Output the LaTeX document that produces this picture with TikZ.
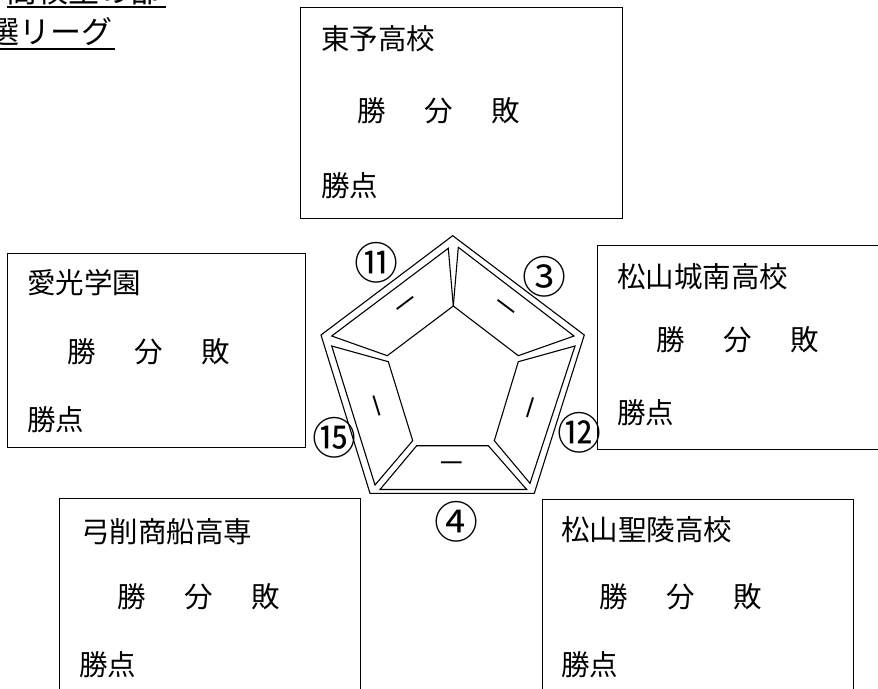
\documentclass[tikz,border=0pt]{standalone}
\usepackage{fontspec}
\setmainfont{Noto Sans CJK JP}
\usetikzlibrary{calc}
\begin{document}
\begin{tikzpicture}[x=1bp,y=-1bp,
  box/.style={draw,line width=1.1bp,inner sep=0pt,anchor=north west},
  lbl/.style={anchor=west,inner sep=0pt,font=\fontsize{28.5bp}{30bp}\selectfont},
  num/.style={inner sep=0pt,font=\fontsize{44bp}{46bp}\selectfont},
  dsh/.style={inner sep=0pt,font=\fontsize{28.5bp}{30bp}\selectfont},
  ttl/.style={anchor=base east,inner sep=0pt,font=\fontsize{31bp}{33bp}\selectfont},
  uline/.style={line width=2bp},
  pent/.style={line width=1.1bp,line join=miter}]
\useasboundingbox (0,0) rectangle (878,689);
\clip (0,0) rectangle (878,689);

% title
\node[ttl] (t1) at (162,3) {高校生の部};
\draw[uline] ([yshift=-4.5bp]t1.base west) -- ([xshift=4bp,yshift=-4.5bp]t1.base east);
\node[ttl] (t2) at (113,44) {予選リーグ};
\draw[uline] ([yshift=-5.5bp]t2.base west) -- ([xshift=2bp,yshift=-5.5bp]t2.base east);

% boxes
\node[box,minimum width=322bp,minimum height=211bp] (bt) at (300,7) {};
\node[lbl] (bt1) at ($(bt.north west)+(21,32)$) {東予高校};
\node[lbl] (bt2) at ($(bt.north west)+(57,104)$) {勝\hspace{38.5bp}分\hspace{38.5bp}敗};
\node[lbl] (bt3) at ($(bt.north west)+(21,179)$) {勝点};

\node[box,minimum width=298bp,minimum height=194bp] (bl) at (7,253) {};
\node[lbl] (bl1) at ($(bl.north west)+(20,30)$) {愛光学園};
\node[lbl] (bl2) at ($(bl.north west)+(60,99)$) {勝\hspace{38.5bp}分\hspace{38.5bp}敗};
\node[lbl] (bl3) at ($(bl.north west)+(20,167)$) {勝点};

\node[box,minimum width=300bp,minimum height=204bp] (br) at (597,245) {};
\node[lbl] (br1) at ($(br.north west)+(20,32)$) {松山城南高校};
\node[lbl] (br2) at ($(br.north west)+(59,95)$) {勝\hspace{38.5bp}分\hspace{38.5bp}敗};
\node[lbl] (br3) at ($(br.north west)+(20,168)$) {勝点};

\node[box,minimum width=301bp,minimum height=210bp] (bbl) at (59,498) {};
\node[lbl] (bbl1) at ($(bbl.north west)+(22,34)$) {弓削商船高専};
\node[lbl] (bbl2) at ($(bbl.north west)+(58,99)$) {勝\hspace{38.5bp}分\hspace{38.5bp}敗};
\node[lbl] (bbl3) at ($(bbl.north west)+(20,167)$) {勝点};

\node[box,minimum width=311bp,minimum height=210bp] (bbr) at (542,499) {};
\node[lbl] (bbr1) at ($(bbr.north west)+(19,31)$) {松山聖陵高校};
\node[lbl] (bbr2) at ($(bbr.north west)+(57,98)$) {勝\hspace{38.5bp}分\hspace{38.5bp}敗};
\node[lbl] (bbr3) at ($(bbr.north west)+(19,166)$) {勝点};

% pentagon
\draw[pent] (452.7,235.7) -- (584.3,335) -- (534.3,493.3) -- (370,493.3) -- (321,335) -- cycle;
\draw[pent] (448.3,248.3) -- (331.7,336) -- (387.3,355.7) -- (453.3,306) -- cycle;
\draw[pent] (458.3,247.3) -- (574,336) -- (518.3,355.7) -- (453.3,306) -- cycle;
\draw[pent] (331.7,346) -- (375,485) -- (412.7,440.7) -- (388.3,361.7) -- cycle;
\draw[pent] (575,346) -- (530,483.3) -- (494.3,440.7) -- (518.3,361.7) -- cycle;
\draw[pent] (380,489.5) -- (526.7,489.5) -- (488.3,445.7) -- (416.7,445.7) -- cycle;

% dashes
\node[dsh,rotate=37] (d1) at (408,306.8) {－};
\node[dsh,rotate=-37] (d2) at (503.8,310) {－};
\node[dsh,rotate=-72.8] (d3) at (372.5,407.7) {－};
\node[dsh,rotate=72.8] (d4) at (535.3,409.3) {－};
\node[dsh] (d5) at (451.7,467.7) {－};

% numbers
\node[num] (n11) at (376,263) {⑪};
\node[num] (n3) at (544,277) {③};
\node[num] (n12) at (579,433) {⑫};
\node[num] (n15) at (334,437.5) {⑮};
\node[num] (n4) at (456,522) {④};
\end{tikzpicture}
\end{document}
